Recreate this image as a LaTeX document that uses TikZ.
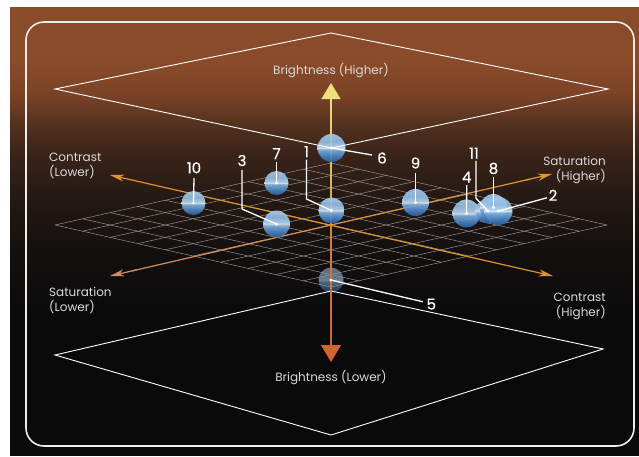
\documentclass[tikz,border=0pt]{standalone}
\usepackage{fontspec}
\setmainfont{Poppins}
\newfontfamily\numfont{Poppins}[FakeBold=0.6]
\usetikzlibrary{calc,arrows.meta}
\definecolor{bg0}{HTML}{8A4B2A}
\definecolor{bg1}{HTML}{7A4226}
\definecolor{bg2}{HTML}{583320}
\definecolor{bg3}{HTML}{3C251A}
\definecolor{bg4}{HTML}{231813}
\definecolor{bg5}{HTML}{141010}
\definecolor{bg6}{HTML}{0B0A0A}
\definecolor{gridc}{HTML}{9A9A9A}
\definecolor{conc}{HTML}{DF932E}
\definecolor{satlo}{HTML}{D58C62}
\definecolor{sathi}{HTML}{E29630}
\definecolor{byel}{HTML}{ECE07E}
\definecolor{bmid}{HTML}{D9A044}
\definecolor{borg}{HTML}{D8823A}
\definecolor{bbot}{HTML}{CF6530}
\definecolor{labc}{HTML}{DADADA}
\definecolor{framec}{HTML}{F2ECE6}
\definecolor{sphB}{HTML}{2B5E9C}
\definecolor{sphM}{HTML}{4A84C0}
\definecolor{sphL}{HTML}{7FB0DC}
\definecolor{sphW}{HTML}{DCEBF6}
\definecolor{sphU}{HTML}{B4D2EC}
\definecolor{sphT}{HTML}{92BCE2}
\definecolor{sphTT}{HTML}{A6C8E6}
\pgfdeclareverticalshading{sphereshade}{100bp}{color(0bp)=(sphB); color(25bp)=(sphB); color(36bp)=(sphM); color(47bp)=(sphL); color(50bp)=(sphW); color(53bp)=(sphU); color(62bp)=(sphT); color(75bp)=(sphTT); color(100bp)=(sphTT)}
\tikzset{
  ball/.style={circle, inner sep=0pt, shade, shading=sphereshade, opacity=0.92},
  lead/.style={draw=white, line width=1.3pt, line join=round},
  num/.style={text=white, font=\numfont\fontsize{15}{15}\selectfont, inner sep=0pt},
  axlab/.style={text=labc, font=\fontsize{12}{15}\selectfont, inner sep=0pt},
  plane/.style={draw=white, line width=0.9pt, line join=miter},
  gridl/.style={draw=gridc, line width=0.45pt},
  axtip/.style={-{Stealth[length=14pt,width=7pt,inset=4pt]}}
}
\begin{document}
\begin{tikzpicture}[x=1pt,y=-1pt]
\useasboundingbox (0,0) rectangle (639,456);
\fill[white] (0,0) rectangle (639,456);
% background
\fill[bg0] (10,7) rectangle (639,61);
\shade[top color=bg0, bottom color=bg1] (10,60) rectangle (639,96);
\shade[top color=bg1, bottom color=bg2] (10,95) rectangle (639,121);
\shade[top color=bg2, bottom color=bg3] (10,120) rectangle (639,151);
\shade[top color=bg3, bottom color=bg4] (10,150) rectangle (639,201);
\shade[top color=bg4, bottom color=bg5] (10,200) rectangle (639,251);
\shade[top color=bg5, bottom color=bg6] (10,250) rectangle (639,311);
\fill[bg6] (10,310) rectangle (639,456);
% frame
\draw[draw=framec, line width=1.6pt, rounded corners=18pt] (26,22) rectangle (634,446);

% coordinates
\coordinate (C) at (331,225);
\coordinate (gL) at (55,225);
\coordinate (gT) at (331,163);
\coordinate (gR) at (607,225);
\coordinate (gB) at (331,287);
\coordinate (cL) at (110,175);
\coordinate (cR) at (553,276);
\coordinate (sL) at (110,276);
\coordinate (sR) at (552,174);
\coordinate (vT) at (331,83);
\coordinate (vTb) at (331,97);
\coordinate (vB) at (331,362);
\coordinate (vBb) at (331,346);

% sphere 5 (below the grid)
\node[ball, minimum size=25pt, opacity=0.55] (s5) at (331,280) {};

% grid
\foreach \i in {0,...,10} {
  \draw[gridl] ($(gL)!\i/10!(gT)$) -- ($(gB)!\i/10!(gR)$);
  \draw[gridl] ($(gL)!\i/10!(gB)$) -- ($(gT)!\i/10!(gR)$);
}

% lower plane
\draw[plane] (331,291) -- (55,355) -- (331,435) -- (603,349) -- cycle;

% contrast axis
\draw[conc, line width=1.2pt, {Stealth[length=14pt,width=7pt,inset=4pt]}-{Stealth[length=14pt,width=7pt,inset=4pt]}] (cL) -- (cR);
% saturation axis (gradient)
\foreach \i in {1,...,18} {
  \pgfmathsetmacro\a{\i/20}
  \pgfmathsetmacro\b{(\i+1)/20}
  \pgfmathtruncatemacro\p{100-\i*5}
  \draw[line width=1.2pt, color=satlo!\p!sathi] ($(sL)!\a!(sR)$) -- ($(sL)!\b!(sR)$);
}
\draw[satlo, line width=1.2pt, axtip] ($(sL)!0.06!(sR)$) -- (sL);
\draw[sathi, line width=1.2pt, axtip] ($(sL)!0.94!(sR)$) -- (sR);

% brightness axis (gradient)
\foreach \i in {0,...,11} {
  \pgfmathsetmacro\a{\i/12}
  \pgfmathsetmacro\b{(\i+1)/12}
  \pgfmathtruncatemacro\p{100-\i*100/12}
  \draw[line width=1.6pt, color=bmid!\p!byel] ($(C)!\a!(vTb)$) -- ($(C)!\b!(vTb)$);
}
\foreach \i in {0,...,11} {
  \pgfmathsetmacro\a{\i/12}
  \pgfmathsetmacro\b{(\i+1)/12}
  \pgfmathtruncatemacro\p{100-\i*100/12}
  \draw[line width=1.6pt, color=borg!\p!bbot] ($(C)!\a!(vBb)$) -- ($(C)!\b!(vBb)$);
}
\draw[byel, line width=1.6pt, -{Triangle[length=16pt,width=19pt]}] (vTb) ++(0,4) -- (vT);
\draw[bbot, line width=1.6pt, -{Triangle[length=17pt,width=20pt]}] (vBb) ++(0,-4) -- (vB);

% spheres
\node[ball, minimum size=28pt] (s6) at (331.5,148) {};
\node[ball, minimum size=26pt] (s1) at (331.5,210.5) {};
\node[ball, minimum size=24pt] (s7) at (276.5,183) {};
\node[ball, minimum size=27pt] (s3) at (276.5,224) {};
\node[ball, minimum size=24pt] (s10) at (193.5,203) {};
\node[ball, minimum size=27pt] (s9) at (415.5,202.5) {};
\node[ball, minimum size=28pt] (s4) at (466.5,213.5) {};
\node[ball, minimum size=25pt] (s11) at (488,211) {};
\node[ball, minimum size=27pt] (s8) at (493.5,207.5) {};
\node[ball, minimum size=28pt] (s2) at (498.5,211) {};

% upper plane
\draw[plane] (331,33) -- (608,89) -- (s6.center) -- (55,89) -- cycle;

% axis labels
\node[axlab, anchor=base] (bh) at (331,74) {Brightness (Higher)};
\node[axlab, anchor=base] (bl) at (331,381.5) {Brightness (Lower)};
\node[axlab, anchor=north west, align=left] (cl) at (49,152.5) {Contrast\\(Lower)};
\node[axlab, anchor=north east, align=right] (sh) at (606,156.5) {Saturation\\(Higher)};
\node[axlab, anchor=north west, align=left] (sl) at (49,287) {Saturation\\(Lower)};
\node[axlab, anchor=north east, align=right] (ch) at (606,292.5) {Contrast\\(Higher)};

% number labels
\node[num, anchor=base] (n1) at (306.5,157) {1};
\node[num, anchor=base] (n6) at (382,163.5) {6};
\node[num, anchor=base] (n7) at (276.5,159) {7};
\node[num, anchor=base] (n3) at (242,166) {3};
\node[num, anchor=base] (n10) at (194,173.3) {10};
\node[num, anchor=base] (n9) at (415.5,168.5) {9};
\node[num, anchor=base] (n4) at (466.7,182.5) {4};
\node[num, anchor=base] (n8) at (493.5,173.8) {8};
\node[num, anchor=base] (n11) at (474,158.5) {11};
\node[num, anchor=base] (n2) at (553,200.8) {2};
\node[num, anchor=base] (n5) at (431.3,309.5) {5};

% leaders
\draw[lead] (n1.south) ++(0,2.5) -- (306.5,199) -- (s1.center);
\draw[lead] (n3.south) ++(0,3.5) -- (242,209) -- (s3.center);
\draw[lead] (n7.south) ++(0,2.5) -- (s7.center);
\draw[lead] (n10.south) ++(0,4.5) -- (s10.center);
\draw[lead] (n9.south) ++(0,4) -- (s9.center);
\draw[lead] (n4.south) ++(0,2.5) -- (s4.center);
\draw[lead] (n8.south) ++(0,3) -- (s8.center);
\draw[lead] (n11.south) ++(2,2.2) -- (476,198.3) -- (s11.center);
\draw[lead] (s6.center) -- ($(n6.west)+(-5,-3)$);
\draw[lead] (s2.center) -- ($(n2.west)+(-1.5,2.5)$);
\draw[lead] (s5.center) -- ($(n5.west)+(-3.5,-2.3)$);
\foreach \s in {s1,s2,s3,s4,s5,s6,s7,s8,s9,s10,s11} {
  \fill[white] (\s.center) circle (1.7);
}
\end{tikzpicture}
\end{document}
